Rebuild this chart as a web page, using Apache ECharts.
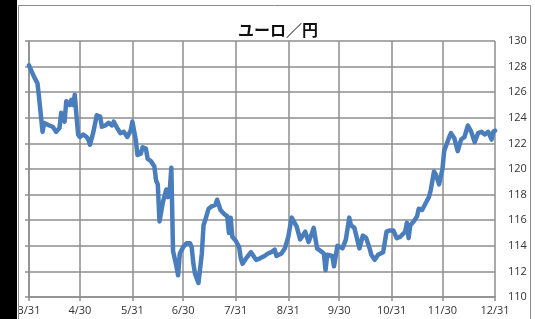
<!DOCTYPE html>
<html>
<head>
<meta charset="utf-8">
<script src="https://cdn.jsdelivr.net/npm/echarts@6/dist/echarts.min.js"></script>
<style>
html, body { margin: 0; padding: 0; background: #fff; }
#chart { width: 535px; height: 319px; }
</style>
</head>
<body>
<div id="chart"></div>
<script>
// ユーロ／円 (3/31 - 12/31)
var tickLabels = ['3/31', '4/30', '5/31', '6/30', '7/31', '8/31', '9/30', '10/31', '11/30', '12/31'];
var yTicks = [110, 112, 114, 116, 118, 120, 122, 124, 126, 128, 130];

var dates = [
    '3/31', '4/3', '4/5', '4/6', '4/7', '4/8', '4/9', '4/12', '4/14', '4/16',
    '4/18', '4/19', '4/21', '4/22', '4/24', '4/25', '4/26', '4/27', '4/28', '4/29',
    '4/30', '5/2', '5/4', '5/5', '5/6', '5/8', '5/10', '5/12', '5/13', '5/15',
    '5/17', '5/19', '5/20', '5/22', '5/24', '5/26', '5/28', '5/30', '5/31', '6/2',
    '6/3', '6/5', '6/6', '6/8', '6/9', '6/11', '6/13', '6/14', '6/15', '6/16',
    '6/18', '6/20', '6/21', '6/22', '6/23', '6/24', '6/26', '6/27', '6/28', '6/30',
    '7/2', '7/4', '7/5', '7/6', '7/7', '7/9', '7/11', '7/12', '7/13', '7/15',
    '7/17', '7/19', '7/20', '7/22', '7/24', '7/26', '7/27', '7/28', '7/29', '7/31',
    '8/2', '8/3', '8/4', '8/6', '8/9', '8/10', '8/12', '8/14', '8/17', '8/19',
    '8/21', '8/23', '8/24', '8/27', '8/29', '8/31', '9/2', '9/3', '9/5', '9/7',
    '9/10', '9/12', '9/14', '9/15', '9/17', '9/19', '9/21', '9/22', '9/23', '9/26',
    '9/27', '9/29', '10/2', '10/4', '10/6', '10/7', '10/9', '10/10', '10/12', '10/14',
    '10/16', '10/18', '10/19', '10/21', '10/23', '10/26', '10/28', '10/30', '11/1', '11/3',
    '11/5', '11/8', '11/9', '11/10', '11/11', '11/13', '11/15', '11/16', '11/18', '11/20',
    '11/22', '11/23', '11/25', '11/26', '11/28', '11/30', '12/1', '12/2', '12/4', '12/5',
    '12/7', '12/8', '12/9', '12/11', '12/13', '12/15', '12/17', '12/19', '12/21', '12/23',
    '12/25', '12/27', '12/29', '12/30', '12/31'
];
var rates = [
    128.1, 127.2, 126.7, 125.5, 124.2, 122.9, 123.6, 123.4, 123.3, 122.9,
    123.2, 124.4, 123.7, 125.3, 125.0, 125.4, 125.0, 125.8, 124.2, 122.7,
    122.5, 122.7, 122.5, 122.3, 121.9, 122.9, 124.2, 124.1, 123.3, 123.4,
    123.6, 123.4, 123.7, 123.2, 122.8, 122.9, 122.5, 123.0, 123.7, 122.3,
    121.1, 121.2, 121.7, 121.6, 120.8, 120.6, 120.2, 119.1, 118.8, 115.9,
    117.4, 118.4, 117.8, 118.2, 120.1, 113.6, 112.4, 111.7, 113.4, 113.9,
    114.2, 114.2, 113.9, 112.6, 111.8, 111.1, 113.4, 115.6, 116.0, 116.9,
    117.1, 117.2, 117.6, 116.8, 116.5, 116.3, 115.0, 116.2, 114.7, 114.4,
    113.9, 113.0, 112.6, 113.0, 113.5, 113.3, 112.9, 113.0, 113.2, 113.4,
    113.5, 113.7, 113.2, 113.4, 113.8, 114.7, 116.2, 116.3, 115.5, 114.5,
    115.1, 114.3, 115.0, 115.4, 113.8, 113.6, 113.4, 112.1, 113.3, 113.2,
    112.4, 114.0, 113.8, 114.5, 116.2, 115.6, 115.4, 115.5, 113.8, 114.8,
    114.6, 113.8, 113.3, 112.9, 113.3, 113.5, 115.1, 115.2, 115.2, 114.6,
    114.7, 115.1, 115.8, 114.6, 115.6, 115.9, 116.3, 116.9, 116.8, 117.3,
    117.8, 118.3, 119.8, 119.6, 118.8, 120.0, 121.4, 121.5, 122.5, 122.8,
    122.4, 121.9, 121.4, 122.3, 122.5, 123.4, 122.9, 122.1, 122.8, 122.9,
    122.7, 122.9, 122.3, 122.9, 123.0
];

// all calendar days 3/31 .. 12/31 for the category axis
var days = [];
var d0 = new Date(2016, 2, 31);
for (var i = 0; i <= 275; i++) {
    var dt = new Date(d0.getTime());
    dt.setDate(d0.getDate() + i);
    days.push((dt.getMonth() + 1) + '/' + dt.getDate());
}

var isTick = function (idx, val) {
    return tickLabels.indexOf(days[idx]) >= 0;
};

var gridColor = '#8e8e8e';
var labelFont = { fontFamily: 'Open Sans', fontSize: 11, color: '#333' };

var chart = echarts.init(document.getElementById('chart'));
chart.setOption({
    animation: false,
    backgroundColor: '#fff',
    title: {
        text: 'ユーロ／円',
        left: 273,
        textAlign: 'center',
        top: 17,
        textStyle: { fontFamily: 'Noto Sans CJK JP', fontSize: 16, fontWeight: 'bold', color: '#111' }
    },
    graphic: [
        { type: 'rect', shape: { x: 0, y: 0, width: 17, height: 319 }, style: { fill: '#000' }, z: 100 },
        { type: 'rect', shape: { x: 18.5, y: 5.5, width: 512, height: 340 }, style: { fill: 'none', stroke: '#8c8c8c', lineWidth: 1 }, z: 100 }
    ],
    grid: { left: 29, right: 40, top: 41, bottom: 22 },
    xAxis: {
        type: 'category',
        data: days,
        boundaryGap: false,
        axisLine: { show: true, lineStyle: { color: gridColor, width: 1.5 } },
        axisTick: { show: true, interval: isTick, length: 4, lineStyle: { color: gridColor, width: 1.5 } },
        splitLine: { show: true, interval: isTick, lineStyle: { color: gridColor, width: 1.5 } },
        axisLabel: Object.assign({ interval: isTick, margin: 8 }, labelFont)
    },
    yAxis: [{
        type: 'value',
        min: yTicks[0],
        max: yTicks[yTicks.length - 1],
        interval: 2,
        position: 'left',
        axisLine: { show: true, lineStyle: { color: gridColor, width: 1.5 } },
        axisTick: { show: true, length: 4, lineStyle: { color: gridColor, width: 1.5 } },
        splitLine: { show: true, lineStyle: { color: gridColor, width: 1.5 } },
        axisLabel: { show: false }
    }, {
        type: 'value',
        min: yTicks[0],
        max: yTicks[yTicks.length - 1],
        interval: 2,
        position: 'right',
        axisLine: { show: false },
        axisTick: { show: false },
        splitLine: { show: false },
        axisLabel: Object.assign({ margin: 13 }, labelFont)
    }],
    series: [{
        type: 'line',
        data: dates.map(function (d, i) { return [days.indexOf(d), rates[i]]; }),
        symbol: 'none',
        lineStyle: { color: '#4a7dbb', width: 4.5, join: 'round', cap: 'round' },
        z: 5
    }]
});
</script>
</body>
</html>
